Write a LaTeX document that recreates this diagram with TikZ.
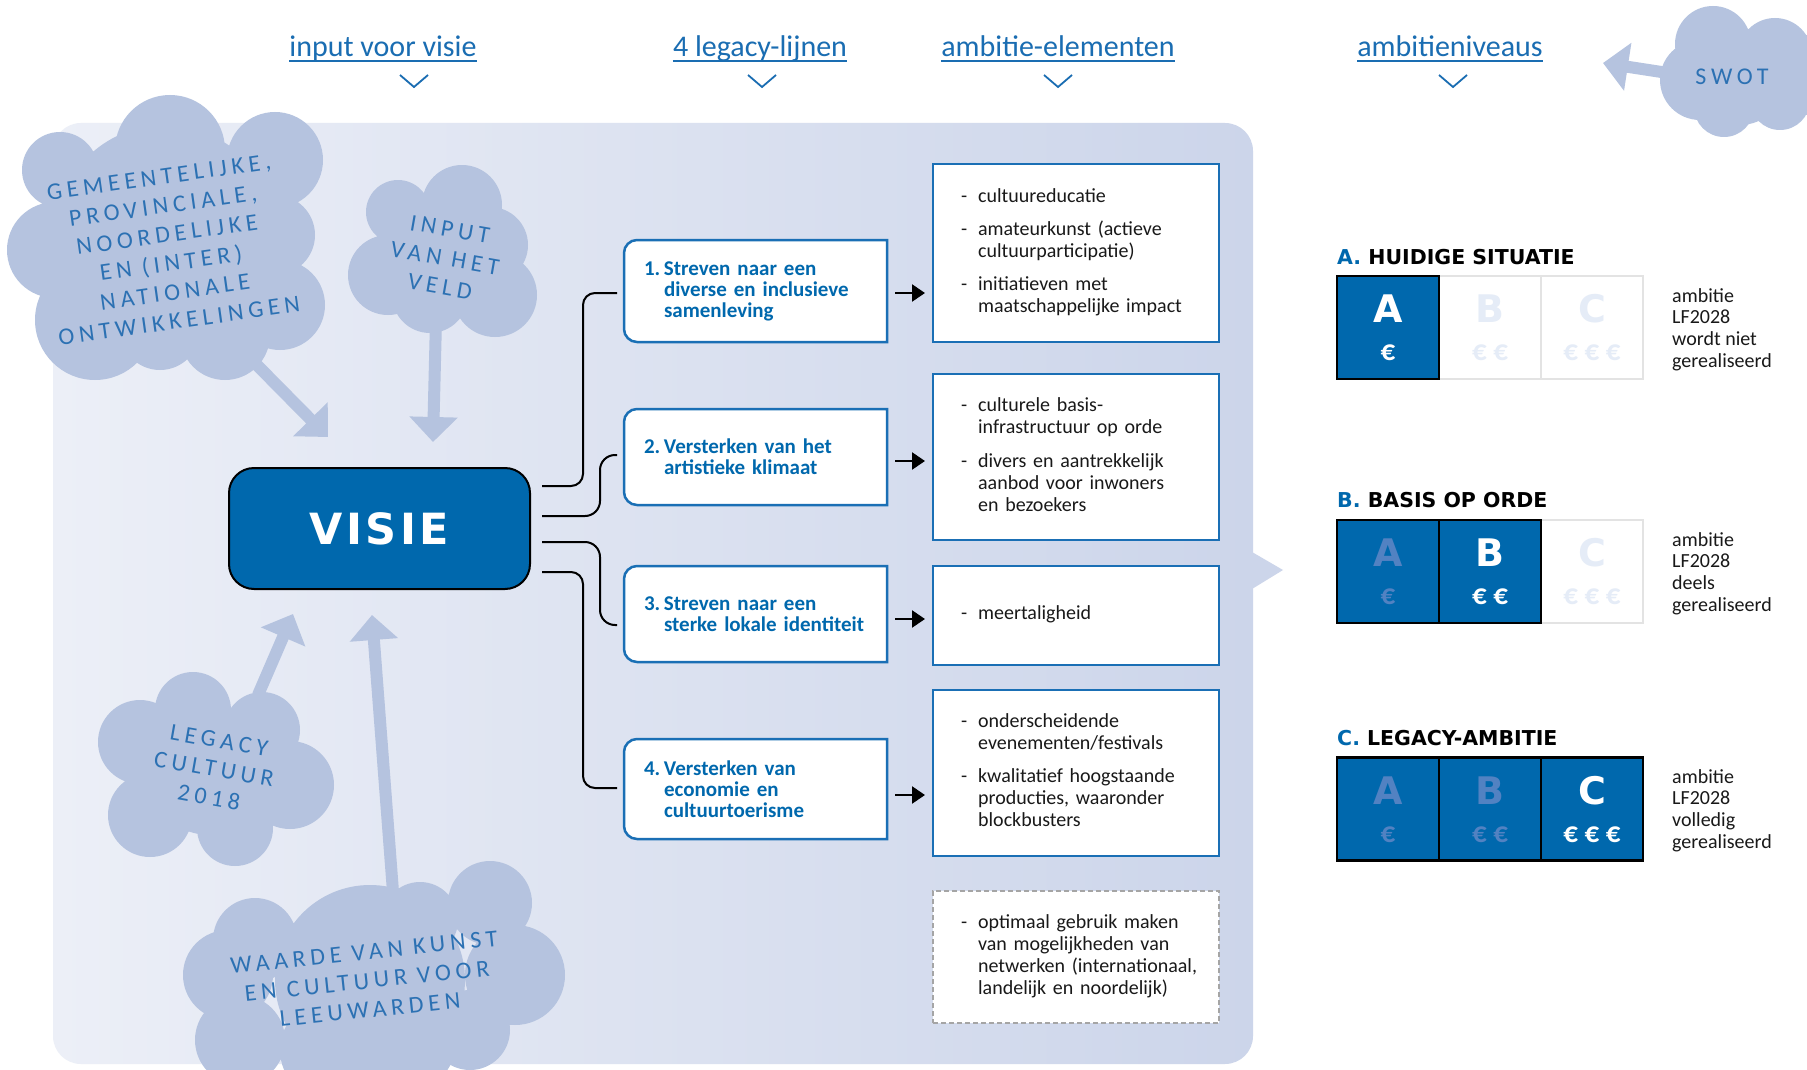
\documentclass[tikz,border=0pt]{standalone}
\usepackage{fontspec}
\setmainfont{Carlito}
\newfontfamily\heavy{DejaVu Sans}
\newfontfamily\heavyls{DejaVu Sans}[LetterSpace=8]
\newfontfamily\cloudf{Carlito}[LetterSpace=20]
\usetikzlibrary{arrows.meta,calc}
\pgfdeclarelayer{bg}
\pgfdeclarelayer{boxes}
\pgfsetlayers{bg,boxes,main}
\definecolor{vblue}{HTML}{0068AD}
\definecolor{linkblue}{HTML}{1A6DB2}
\definecolor{cloudc}{HTML}{B5C3DF}
\definecolor{cloudtext}{HTML}{2C71B3}
\definecolor{panelL}{HTML}{ECEFF7}
\definecolor{panelR}{HTML}{CCD5EA}
\definecolor{fadeblue}{HTML}{5282C2}
\definecolor{fadewhite}{HTML}{E5ECF7}
\definecolor{cellgray}{HTML}{E3E3E3}
\definecolor{boxblue}{HTML}{1A6FB5}
\definecolor{dashgray}{HTML}{A5A5A5}
\newcommand\lboxpath[1]{%
  \filldraw[lboxline] (#1.north) -- (#1.north east) -- (#1.south east) -- (#1.south)
    [rounded corners=13pt] -- (#1.south west) -- (#1.north west) -- (#1.north);}
\newcommand\eblist[1]{\noindent\begin{tabular}{@{}l@{\hspace{11pt}}l@{}}#1\end{tabular}}
\begin{document}
\begin{tikzpicture}[x=1pt,y=-1pt,
  hdr/.style={font=\fontsize{30}{30}\selectfont, text=linkblue, inner sep=0pt, anchor=base},
  hdrline/.style={draw=linkblue, line width=1.6pt},
  chev/.style={draw=linkblue, line width=1.8pt},
  cloudtxt/.style={font=\cloudf\fontsize{24}{29}\selectfont, text=cloudtext, align=center, inner sep=0pt},
  cloudarrow/.style={draw=cloudc, line width=12pt, -{Triangle[length=25pt,width=47pt]}},
  visiebox/.style={draw=black, line width=2pt, fill=vblue, rounded corners=25pt,
    minimum width=301pt, minimum height=121pt, text=white, inner sep=0pt,
    font=\heavyls\bfseries\fontsize{43}{43}\selectfont},
  lbox/.style={text width=223pt, inner xsep=20pt, inner ysep=0pt, outer sep=0pt,
    minimum height=#1, align=left, text=vblue, font=\bfseries\fontsize{21}{21}\selectfont},
  lboxline/.style={draw=boxblue, line width=2.5pt, fill=white},
  ebox/.style={draw=boxblue, line width=2.5pt, fill=white, minimum width=286pt,
    minimum height=#1, text width=230pt, inner xsep=28pt, inner ysep=0pt, outer sep=0pt,
    align=left, font=\fontsize{20}{22}\selectfont, text=black!90},
  conn/.style={draw=black, line width=2pt},
  barrow/.style={draw=black, line width=2.4pt, -{Triangle[length=13pt,width=17pt]}},
  cellw/.style={draw=cellgray, line width=2pt, fill=white, minimum width=102pt, minimum height=103pt, inner sep=0pt},
  cellb/.style={draw=black, line width=2.2pt, fill=vblue, minimum width=102pt, minimum height=103pt, inner sep=0pt},
  lettr/.style={font=\heavy\bfseries\fontsize{38}{38}\selectfont, inner sep=0pt},
  euro/.style={font=\bfseries\fontsize{29}{29}\selectfont, inner sep=0pt},
  lvl/.style={font=\heavy\bfseries\fontsize{20.5}{20.5}\selectfont, inner sep=0pt, anchor=base west},
  side/.style={font=\fontsize{20}{21.7}\selectfont, align=left, inner sep=0pt, anchor=north west, text=black!90}
]
\useasboundingbox (0,0) rectangle (1807,1070);

\begin{pgfonlayer}{bg}
\fill[white] (0,0) rectangle (1807,1070);
\shade[left color=panelL, right color=panelR, rounded corners=28pt] (53,123) rectangle (1253,1064);
\fill[panelR] (1252,552) -- (1283,570) -- (1252,589) -- cycle;
% cloud arrows
\coordinate (s1) at (250,358); \coordinate (t1) at (328,437);
\coordinate (s2) at (436,320); \coordinate (t2) at (433,442);
\coordinate (s3) at (258,695); \coordinate (t3) at (293,614);
\coordinate (s4) at (394,905); \coordinate (t4) at (372,615);
\coordinate (s5) at (1668,73); \coordinate (t5) at (1603,63);
\draw[cloudarrow] (s1) -- (t1);
\draw[cloudarrow] (s2) -- (t2);
\draw[cloudarrow] (s3) -- (t3);
\draw[cloudarrow] (s4) -- (t4);
\draw[cloudarrow] (s5) -- (t5);
% clouds
\fill[cloudc] (60,170) circle[radius=38] (170,150) circle[radius=55] (275,160) circle[radius=48]
  (55,250) circle[radius=48] (275,235) circle[radius=40] (280,305) circle[radius=45]
  (225,335) circle[radius=45] (95,320) circle[radius=60] (160,330) circle[radius=40]
  (165,235) circle[radius=110];
\fill[cloudc] (398,212) circle[radius=32] (462,205) circle[radius=40] (490,245) circle[radius=38]
  (495,295) circle[radius=42] (430,295) circle[radius=38] (388,275) circle[radius=40]
  (445,255) circle[radius=55];
\fill[cloudc] (193,710) circle[radius=38] (262,730) circle[radius=38] (290,785) circle[radius=44]
  (235,828) circle[radius=38] (150,815) circle[radius=42] (140,742) circle[radius=42]
  (210,770) circle[radius=65];
\fill[cloudc] (490,903) circle[radius=42] (370,925) circle[radius=40] (420,920) circle[radius=38]
  (255,940) circle[radius=42] (228,975) circle[radius=45] (515,975) circle[radius=50]
  (470,1030) circle[radius=40] (240,1040) circle[radius=45] (330,1050) circle[radius=50]
  (410,1045) circle[radius=45] (370,980) circle[radius=95];
\fill[cloudc] (1713,44) circle[radius=38] (1775,55) circle[radius=37] (1700,80) circle[radius=40]
  (1724,107) circle[radius=30] (1780,100) circle[radius=30] (1805,75) circle[radius=40]
  (1740,80) circle[radius=45];
\end{pgfonlayer}

% headers
\node[hdr] (h1) at (383,57) {input voor visie};
\node[hdr] (h2) at (760,57) {4 legacy-lijnen};
\node[hdr] (h3) at (1058,57) {ambitie-elementen};
\node[hdr] (h4) at (1450,57) {ambitieniveaus};
\foreach \h in {h1,h2,h3,h4}
  \draw[hdrline] ([yshift=-4pt]\h.base west) -- ([yshift=-4pt]\h.base east);
\draw[chev] (400,75) -- (414,87) -- (428,75);
\draw[chev] (748,75) -- (762,87) -- (776,75);
\draw[chev] (1044,75) -- (1058,87) -- (1072,75);
\draw[chev] (1439,75) -- (1453,87) -- (1467,75);

% cloud texts
\node[cloudtxt, rotate=8] (c1t) at (169,249) {GEMEENTELIJKE,\\PROVINCIALE,\\NOORDELIJKE\\EN (INTER)\\NATIONALE\\ONTWIKKELINGEN};
\node[cloudtxt, rotate=-10] (c2t) at (445,258) {INPUT\\VAN HET\\VELD};
\node[cloudtxt, rotate=-10] (c3t) at (214,769) {LEGACY\\CULTUUR\\2018};
\node[cloudtxt, rotate=6] (c4t) at (367,981) {WAARDE VAN KUNST\\EN CULTUUR VOOR\\LEEUWARDEN};
\node[cloudtxt] (c5t) at (1732,77) {SWOT};

% visie
\node[visiebox] (visie) at (379.5,528.5) {VISIE};

% legacy lines
\node[lbox=102pt] (b1) at (755.5,291) {\makebox[20pt][l]{1.}Streven naar een\\\hspace*{20pt}diverse en inclusieve\\\hspace*{20pt}samenleving};
\node[lbox=96pt] (b2) at (755.5,457) {\makebox[20pt][l]{2.}Versterken van het\\\hspace*{20pt}artistieke klimaat};
\node[lbox=96pt] (b3) at (755.5,614) {\makebox[20pt][l]{3.}Streven naar een\\\hspace*{20pt}sterke lokale identiteit};
\node[lbox=100pt] (b4) at (755.5,789) {\makebox[20pt][l]{4.}Versterken van\\\hspace*{20pt}economie en\\\hspace*{20pt}cultuurtoerisme};
\begin{pgfonlayer}{boxes}
\lboxpath{b1}\lboxpath{b2}\lboxpath{b3}\lboxpath{b4}
\end{pgfonlayer}

% ambition elements
\node[ebox=178pt] (e1) at (1076,253) {\eblist{- & cultuureducatie\\[11pt] - & amateurkunst (actieve\\ & cultuurparticipatie)\\[11pt] - & initiatieven met\\ & maatschappelijke impact}};
\node[ebox=166pt] (e2) at (1076,457) {\eblist{- & culturele basis-\\ & infrastructuur op orde\\[12pt] - & divers en aantrekkelijk\\ & aanbod voor inwoners\\ & en bezoekers}};
\node[ebox=99pt] (e3) at (1076,615.5) {\eblist{- & meertaligheid}};
\node[ebox=166pt] (e4) at (1076,773) {\eblist{- & onderscheidende\\ & evenementen/festivals\\[11pt] - & kwalitatief hoogstaande\\ & producties, waaronder\\ & blockbusters}};
\node[ebox=132pt, draw=dashgray, line width=1.8pt, dash pattern=on 5pt off 3pt] (e5) at (1076,957) {\eblist{- & optimaal gebruik maken\\ & van mogelijkheden van\\ & netwerken (internationaal,\\ & landelijk en noordelijk)}};

% connectors from VISIE
\draw[conn, rounded corners=12pt] ([xshift=11pt,yshift=42.5pt]visie.east) -- ++(41,0) |- ([xshift=-7pt,yshift=-2pt]b1.west);
\draw[conn, rounded corners=15pt] ([xshift=11pt,yshift=12.5pt]visie.east) -- ++(58,0) |- ([xshift=-7pt,yshift=2pt]b2.west);
\draw[conn, rounded corners=15pt] ([xshift=11pt,yshift=-13.5pt]visie.east) -- ++(58,0) |- ([xshift=-7pt,yshift=-11pt]b3.west);
\draw[conn, rounded corners=12pt] ([xshift=11pt,yshift=-43.5pt]visie.east) -- ++(41,0) |- ([xshift=-7pt,yshift=1pt]b4.west);

% arrows to elements
\draw[barrow] ([xshift=8pt,yshift=-2pt]b1.east) -- ($(b1.east -| e1.west)+(-8,2)$);
\draw[barrow] ([xshift=8pt,yshift=-4pt]b2.east) -- ($(b2.east -| e2.west)+(-8,4)$);
\draw[barrow] ([xshift=8pt,yshift=-5pt]b3.east) -- ($(b3.east -| e3.west)+(-8,5)$);
\draw[barrow] ([xshift=8pt,yshift=-6pt]b4.east) -- ($(b4.east -| e4.west)+(-8,6)$);

% ambition levels
\node[lvl] (hA) at (1337,264) {\textcolor{vblue}{A.} HUIDIGE SITUATIE};
\node[lvl] (hB) at (1337,507) {\textcolor{vblue}{B.} BASIS OP ORDE};
\node[lvl] (hC) at (1337,745) {\textcolor{vblue}{C.} LEGACY-AMBITIE};

% row A
\node[cellw] (a2) at (1490,327.5) {};
\node[cellw] (a3) at (1592,327.5) {};
\node[cellb] (a1) at (1388,327.5) {};
\node[lettr, text=white] at ([yshift=18.5pt]a1.center) {A};
\node[euro, text=white] at ([yshift=-25.5pt]a1.center) {€};
\node[lettr, text=fadewhite] at ([yshift=18.5pt]a2.center) {B};
\node[euro, text=fadewhite] at ([yshift=-25.5pt]a2.center) {€ €};
\node[lettr, text=fadewhite] at ([yshift=18.5pt]a3.center) {C};
\node[euro, text=fadewhite] at ([yshift=-25.5pt]a3.center) {€ € €};
% row B
\node[cellw] (bb3) at (1592,571.5) {};
\node[cellb] (bb1) at (1388,571.5) {};
\node[cellb] (bb2) at (1490,571.5) {};
\node[lettr, text=fadeblue] at ([yshift=18.5pt]bb1.center) {A};
\node[euro, text=fadeblue] at ([yshift=-25.5pt]bb1.center) {€};
\node[lettr, text=white] at ([yshift=18.5pt]bb2.center) {B};
\node[euro, text=white] at ([yshift=-25.5pt]bb2.center) {€ €};
\node[lettr, text=fadewhite] at ([yshift=18.5pt]bb3.center) {C};
\node[euro, text=fadewhite] at ([yshift=-25.5pt]bb3.center) {€ € €};
% row C
\node[cellb] (cc1) at (1388,809) {};
\node[cellb] (cc2) at (1490,809) {};
\node[cellb] (cc3) at (1592,809) {};
\node[lettr, text=fadeblue] at ([yshift=18.5pt]cc1.center) {A};
\node[euro, text=fadeblue] at ([yshift=-25.5pt]cc1.center) {€};
\node[lettr, text=fadeblue] at ([yshift=18.5pt]cc2.center) {B};
\node[euro, text=fadeblue] at ([yshift=-25.5pt]cc2.center) {€ €};
\node[lettr, text=white] at ([yshift=18.5pt]cc3.center) {C};
\node[euro, text=white] at ([yshift=-25.5pt]cc3.center) {€ € €};

% side texts
\node[side] (sA) at (1672,288) {ambitie\\LF2028\\wordt niet\\gerealiseerd};
\node[side] (sB) at (1672,532) {ambitie\\LF2028\\deels\\gerealiseerd};
\node[side] (sC) at (1672,769) {ambitie\\LF2028\\volledig\\gerealiseerd};
\end{tikzpicture}
\end{document}
